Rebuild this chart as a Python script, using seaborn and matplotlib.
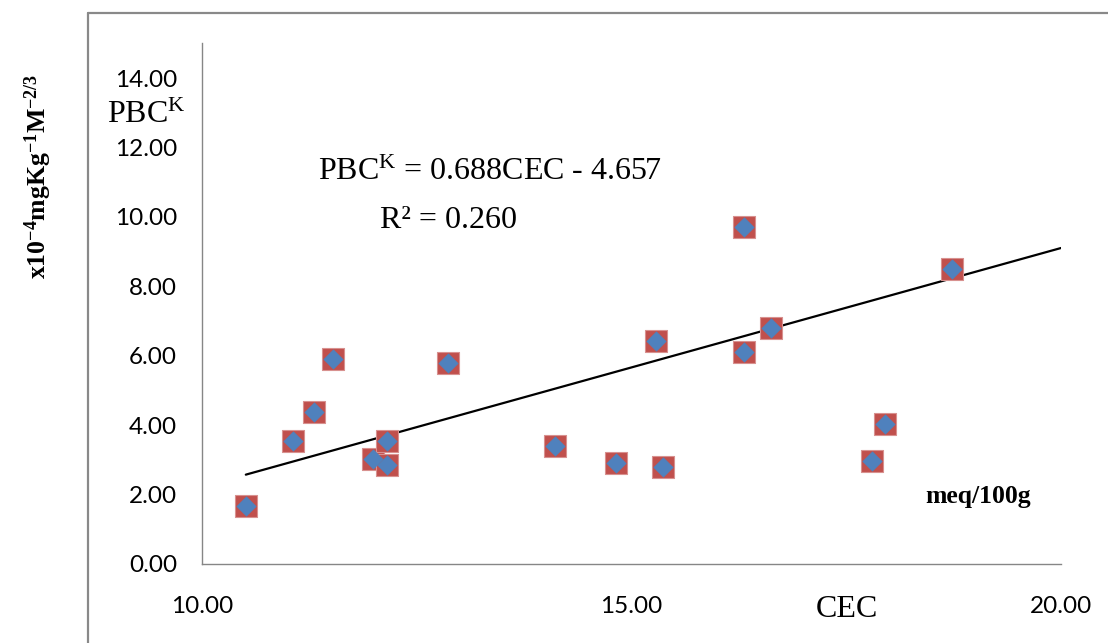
import matplotlib
matplotlib.use("Agg")
import matplotlib.pyplot as plt
from matplotlib.lines import Line2D
import numpy as np
import pandas as pd
import seaborn as sns

# Cation exchange capacity (meq/100g) and potassium buffering capacity
cec = [10.51, 11.06, 11.30, 11.53, 11.99, 12.15, 12.15, 12.86, 14.11,
       14.82, 15.29, 15.37, 16.31, 16.31, 16.62, 17.80, 17.95, 18.73]
pbck = [1.68, 3.53, 4.39, 5.90, 3.03, 3.55, 2.86, 5.80, 3.41,
        2.91, 6.43, 2.80, 9.70, 6.12, 6.81, 2.96, 4.02, 8.50]

# Linear trend: PBC^K = slope * CEC + intercept
slope = 0.688
intercept = -4.657
r_squared = 0.260

x_ticks = [10, 15, 20]
y_ticks = [0, 2, 4, 6, 8, 10, 12, 14]

df = pd.DataFrame({"CEC": cec, "PBCK": pbck})
trend_x = [min(cec), 20.0]
trend = pd.DataFrame({"CEC": trend_x,
                      "PBCK": [slope * v + intercept for v in trend_x]})

sns.set_theme(style="white")
plt.rcParams["font.family"] = ["Lato", "DejaVu Sans"]
plt.rcParams["text.color"] = "black"
plt.rcParams["mathtext.fontset"] = "custom"
plt.rcParams["mathtext.rm"] = "Liberation Serif"
plt.rcParams["mathtext.it"] = "Liberation Serif:italic"
plt.rcParams["mathtext.bf"] = "Liberation Serif:bold"

W, H = 1108, 643
fig = plt.figure(figsize=(W / 100, H / 100), dpi=100)
fig.patch.set_facecolor("white")


def fx(px):
    return px / W


def fy(py):
    return 1 - py / H


ax = fig.add_axes([fx(202), fy(564), fx(1061) - fx(202), fy(43.3) - fy(564)])

sns.lineplot(data=trend, x="CEC", y="PBCK", ax=ax, color="black",
             linewidth=1.6, zorder=2)
sns.scatterplot(data=df, x="CEC", y="PBCK", ax=ax, marker="s", s=230,
                color="#C0504D", edgecolor="#D8918F", linewidth=0.8, zorder=3)
sns.scatterplot(data=df, x="CEC", y="PBCK", ax=ax, marker="D", s=100,
                color="#4F81BD", edgecolor="#4F81BD", linewidth=0.3, zorder=4)

ax.set_xlim(10, 20)
ax.set_ylim(0, 15)
ax.set_xticks(x_ticks)
ax.set_yticks(y_ticks)
ax.set_xticklabels([f"{v:.2f}" for v in x_ticks])
ax.set_yticklabels([f"{v:.2f}" for v in y_ticks])
ax.set_xlabel("")
ax.set_ylabel("")

for side in ("top", "right"):
    ax.spines[side].set_visible(False)
for side in ("left", "bottom"):
    ax.spines[side].set_color("#868686")
    ax.spines[side].set_linewidth(1.0)

ax.tick_params(axis="both", which="major", direction="out", length=6,
               width=1.0, color="#868686", labelsize=17.5, labelcolor="black")
ax.tick_params(axis="y", pad=12)
ax.tick_params(axis="x", pad=17)

# Outer chart frame
frame_kw = dict(color="#898989", linewidth=1.6, transform=fig.transFigure)
fig.add_artist(Line2D([fx(88), fx(88)], [fy(13), 0], **frame_kw))
fig.add_artist(Line2D([fx(88), 1], [fy(13), fy(13)], **frame_kw))

serif = ["Liberation Serif", "DejaVu Serif"]

fig.text(fx(107), fy(123), r"PBC$^{\mathrm{K}}$", family=serif, fontsize=23,
         color="black", ha="left", va="baseline")
fig.text(fx(318), fy(180),
         r"PBC$^{\mathrm{K}}$ = " + f"{slope:.3f}CEC - {abs(intercept):.3f}",
         family=serif, fontsize=23, color="black", ha="left", va="baseline")
fig.text(fx(380), fy(228), f"R² = {r_squared:.3f}", family=serif,
         fontsize=23, color="black", ha="left", va="baseline")
fig.text(fx(816), fy(617), "CEC", family=serif, fontsize=23,
         color="black", ha="left", va="baseline")
fig.text(fx(925), fy(503), "meq/100g", family=serif, fontsize=18.5,
         fontweight="bold", color="black", ha="left", va="baseline")
fig.text(fx(38), fy(176), r"$\mathbf{x10^{-4}mgKg^{-1}M^{-2/3}}$",
         family=serif, fontsize=18.5, color="black", rotation=90,
         ha="center", va="center")

fig.savefig("out.png", dpi=100, facecolor="white")
